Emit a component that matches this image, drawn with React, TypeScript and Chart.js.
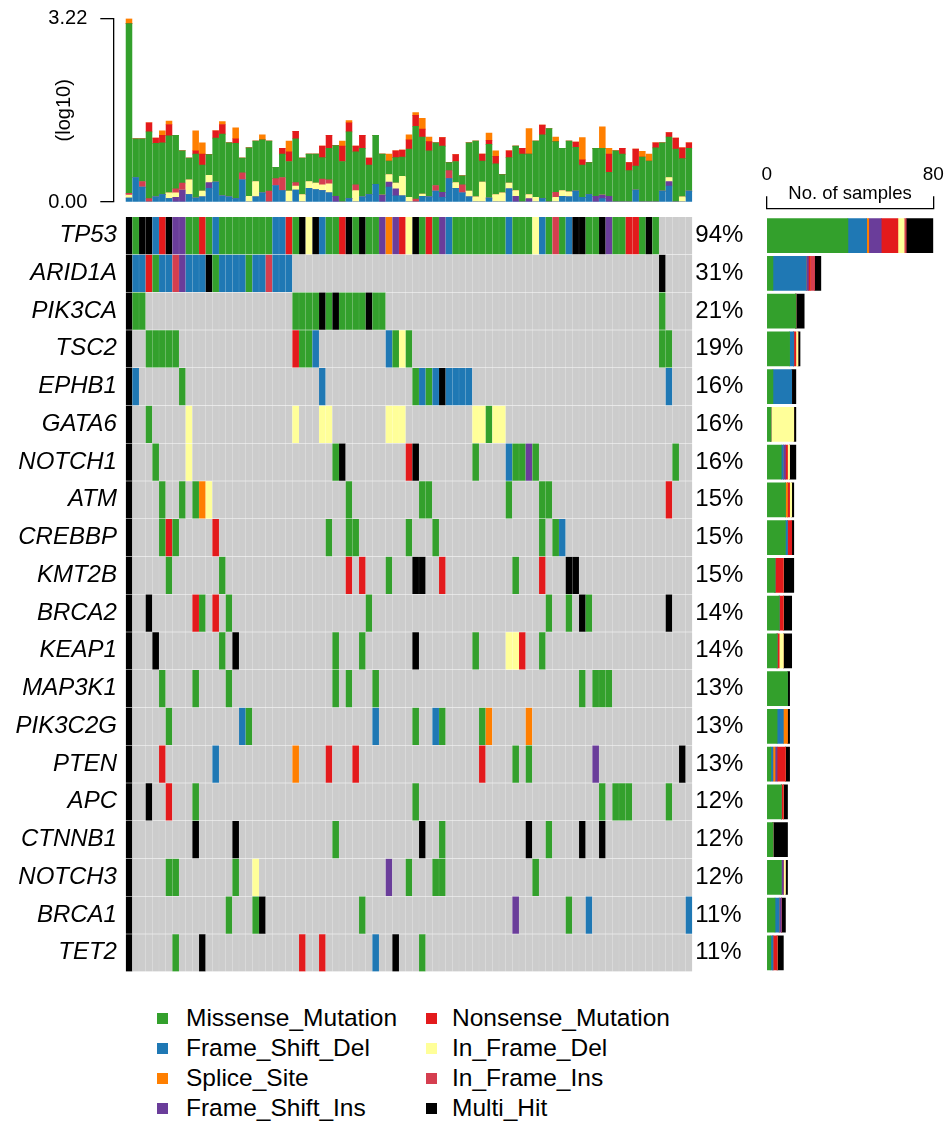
import React, { useEffect, useRef } from "react";
import { Chart, registerables } from "chart.js";

Chart.register(...registerables);

const FONT = '"Liberation Sans", Arial, Helvetica, sans-serif';

// ---------- categories ----------
const genes = ["TP53", "ARID1A", "PIK3CA", "TSC2", "EPHB1", "GATA6", "NOTCH1", "ATM", "CREBBP", "KMT2B",
  "BRCA2", "KEAP1", "MAP3K1", "PIK3C2G", "PTEN", "APC", "CTNNB1", "NOTCH3", "BRCA1", "TET2"];
const pctLabels = ["94%", "31%", "21%", "19%", "16%", "16%", "16%", "15%", "15%", "15%",
  "14%", "14%", "13%", "13%", "13%", "12%", "12%", "12%", "11%", "11%"];
const sampleCount = 85;

// variant classes (legend order), one-letter codes used in the oncoprint rows, colours
const variantTypes = ["Missense_Mutation", "Frame_Shift_Del", "Splice_Site", "Frame_Shift_Ins",
  "Nonsense_Mutation", "In_Frame_Del", "In_Frame_Ins", "Multi_Hit"];
const variantCodes = ["G", "B", "O", "P", "R", "Y", "I", "K"];
const variantColors = ["#33A02C", "#1F78B4", "#FF7F00", "#6A3D9A", "#E31A1C", "#FFFF99", "#D53E4F", "#000000"];
const noMutationColor = "#CCCCCC";

// ---------- oncoprint: one code per sample (85), '.' = not mutated ----------
const oncoRows = [
  "KGKKBRKPPG GRGBGGGGGG GGBBRGKYKB GGRKGKGGPO PRYKGRGPBG GGGGGGGBGG GYBGIGBKKG GKPGGRRGKG .....",
  "KBBRGBBIPB BBKGBBBBGB BIBBB..... .......... .......... .......... .......... .......... K....",
  "KGG....... .......... .....GGGGK GKGGGGKGG. .......... .......... .......... .......... G....",
  "K..GGGGG.. .......... .....RGGB. .........B GYG....... .......... .......... .......... GG...",
  "KB......G. .......... .........B .......... ...GBGBKBB BB........ .......... .......... .B...",
  "K..G.....Y .......... .....Y...Y Y........Y YY........ ..YYGYY... .......... .......... .....",
  "K...G....Y .......... .......... .GK....... ..RK...... ..G....BGG PG........ .......... ..G..",
  "K....G..G. GOY....... .......... ...G...... ....GG.... .......G.. ..GG...... .......... .R...",
  "K....GRG.. ...R...... .......... G..GG..... ..G...G... .......... ..G.GB.... .......... .....",
  "K.....G... ....G..... .......... ...R.R...G ...KK..R.. ........G. ..R...KK.. .......... .....",
  "K..K...... RG.R.G.... .......... ......G... .......... .......... ...G..G.KG .......... .K...",
  "K...K..... ....G.K... .......... .G...G.... ...K...... ..G....YYR ..G....... .......... .....",
  "K....G.... G....G.... .......... .G.G...G.. .......... .......... ........G. GGG....... .....",
  "K.....G... .......BG. .......... .......B.. ...G..BG.. ...GO..... O......... .......... .....",
  "K....R.... ...B...... .....O.... R...R..... .......... ...R....G. G......... P......... ...K.",
  "K..K..R... G......... .......... .......... ...G...... .......... .......... .G.GGG.... .G...",
  "K......... K.....K... .......... .G........ ....K..G.. .......... K..G....K. .K........ .....",
  "K.....GG.. ......G..Y .......... .........P ..G...GG.. .......... .G........ .......... .....",
  "K......... .....G...G K......... .....G.... .......... ........P. ......G..B .......... ....B",
  "K......G.. .K........ ......R..R .......B.. K...G..... .......... .......... .......... .....",
].map((s) => s.replace(/ /g, ""));

// ---------- top bar: mutation burden per sample (log10 scale), stacked by class ----------
const tmbFrameShiftDel = [
  0.07, 0.43, 0.26, 0, 0.09, 0.13, 0.06, 0, 0, 0.13,
  0.07, 0.09, 0.24, 0.35, 0.11, 0.09, 0.06, 0.39, 0, 0.09,
  0.16, 0, 0.29, 0.2, 0, 0.21, 0, 0.24, 0.22, 0.2,
  0.16, 0, 0, 0.06, 0, 0.09, 0.13, 0.31, 0, 0.26,
  0.11, 0.11, 0, 0, 0.1, 0.09, 0.19, 0.08, 0.41, 0.24,
  0.16, 0.09, 0, 0, 0.07, 0, 0, 0.23, 0, 0,
  0, 0, 0.06, 0, 0, 0.1, 0.09, 0.19, 0.08, 0.13,
  0, 0.06, 0, 0, 0, 0, 0.21, 0, 0, 0,
  0.19, 0.28, 0, 0, 0.19];
const tmbFrameShiftIns = [
  0, 0, 0, 0, 0, 0, 0, 0.08, 0.21, 0,
  0, 0, 0.1, 0, 0, 0, 0, 0, 0, 0,
  0, 0, 0, 0, 0, 0, 0, 0, 0, 0,
  0, 0.1, 0, 0, 0, 0, 0, 0, 0.12, 0.09,
  0.12, 0, 0, 0, 0, 0, 0, 0.09, 0, 0,
  0, 0, 0, 0, 0, 0, 0, 0, 0.1, 0,
  0.06, 0, 0, 0, 0, 0, 0, 0, 0, 0,
  0.1, 0.06, 0.1, 0, 0, 0, 0, 0, 0, 0,
  0, 0.08, 0, 0, 0];
const tmbInFrameDel = [
  0.05, 0, 0, 0, 0, 0, 0.1, 0.08, 0, 0.26,
  0, 0.1, 0.13, 0, 0, 0, 0, 0, 0.1, 0.27,
  0, 0, 0, 0, 0.19, 0.07, 0.13, 0.12, 0.11, 0.1,
  0.16, 0, 0, 0, 0.2, 0, 0, 0, 0, 0.13,
  0.1, 0.34, 0.08, 0, 0.04, 0, 0, 0, 0, 0.1,
  0, 0.1, 0.09, 0.35, 0, 0.13, 0.16, 0.1, 0.1, 0,
  0.07, 0.08, 0, 0, 0.08, 0.1, 0.09, 0, 0, 0,
  0, 0, 0, 0, 0, 0, 0, 0, 0, 0,
  0, 0.07, 0, 0.09, 0];
const tmbInFrameIns = [
  0.03, 0, 0.1, 0.06, 0, 0, 0, 0.07, 0.12, 0,
  0, 0, 0, 0, 0, 0, 0, 0.12, 0, 0,
  0, 0.19, 0.12, 0.23, 0, 0.06, 0, 0, 0, 0.1,
  0.07, 0, 0, 0, 0.1, 0, 0, 0, 0, 0,
  0, 0, 0, 0.05, 0, 0, 0.1, 0, 0.14, 0,
  0.14, 0, 0, 0, 0, 0, 0, 0, 0, 0,
  0, 0, 0, 0, 0.09, 0, 0, 0, 0, 0,
  0, 0, 0, 0, 0, 0, 0, 0, 0, 0,
  0, 0, 0, 0, 0];
const tmbMissense = [
  2.98, 0.68, 0.75, 1.17, 0.94, 0.91, 1.0, 0.94, 0.57, 0.38,
  0.77, 0.46, 0.36, 0.77, 1.08, 0.95, 0.97, 0.26, 0.85, 0.71,
  0.93, 0.88, 0.2, 0.41, 0.52, 0.77, 0.64, 0.48, 0.51, 0.38,
  0.55, 0.89, 0.71, 1.17, 0.58, 0.85, 0.52, 0.86, 0.72, 0.24,
  0.45, 0.34, 0.85, 1.28, 1.0, 0.81, 0.75, 0.81, 0.14, 0.37,
  0.16, 0.85, 0.98, 0.37, 0.94, 0.54, 0.32, 0.45, 0.78, 0.84,
  0.71, 0.99, 1.12, 1.29, 0.89, 0.74, 0.89, 0.77, 0.57, 0.56,
  0.84, 0.82, 0.42, 0.9, 0.84, 0.55, 0.42, 0.79, 0.72, 0.95,
  0.85, 0.71, 0.93, 0.67, 0.75];
const tmbNonsense = [
  0, 0, 0, 0.16, 0.09, 0.13, 0.2, 0, 0, 0,
  0.06, 0.19, 0, 0.13, 0.17, 0, 0.08, 0, 0, 0,
  0, 0, 0, 0.1, 0.17, 0.13, 0, 0, 0, 0.2,
  0.23, 0, 0.27, 0.16, 0.1, 0.23, 0.12, 0, 0, 0,
  0.12, 0.12, 0.16, 0.19, 0.14, 0.16, 0, 0.15, 0, 0.12,
  0, 0, 0, 0.12, 0.07, 0.13, 0, 0.12, 0, 0.1,
  0, 0, 0.17, 0, 0, 0, 0, 0.09, 0.09, 0,
  0, 0, 0.32, 0, 0.1, 0.14, 0.3, 0, 0, 0.09,
  0, 0.08, 0.19, 0.19, 0.1];
const tmbSpliceSite = [
  0.09, 0, 0, 0, 0, 0.08, 0.06, 0, 0, 0,
  0.35, 0.2, 0, 0, 0.05, 0, 0.19, 0, 0, 0,
  0.09, 0, 0, 0, 0.19, 0, 0, 0, 0, 0,
  0, 0, 0.09, 0.04, 0, 0, 0, 0, 0, 0.12,
  0, 0, 0.09, 0.05, 0.19, 0.08, 0, 0, 0, 0,
  0, 0, 0, 0, 0.13, 0.1, 0, 0, 0, 0,
  0.45, 0, 0, 0, 0.08, 0, 0, 0, 0.39, 0,
  0, 0.38, 0.1, 0, 0, 0, 0, 0.1, 0.12, 0,
  0, 0, 0, 0, 0];
const tmbMax = 3.22;
const tmbTicks = [0, 3.22];
const sampleTicks = [0, 80];

// ---------- layout constants (pixels) ----------
const GRID_LEFT = 125.67;
const GRID_RIGHT = 692.33;
const GRID_TOP = 216.7;
const GRID_BOTTOM = 971.7;

const codeColor = (c: string) => {
  const k = variantCodes.indexOf(c);
  return k < 0 ? noMutationColor : variantColors[k];
};

// remove Chart.js' automatic label overhang padding so the plot area sits exactly where the layout says
const noOverhang = (s: any) => {
  s.paddingTop = 0;
  s.paddingBottom = 0;
  s.paddingLeft = 0;
  s.paddingRight = 0;
};

function useChart(ref: React.RefObject<HTMLCanvasElement | null>, make: () => any) {
  useEffect(() => {
    if (!ref.current) return;
    const chart = new Chart(ref.current, make());
    return () => chart.destroy();
  }, []);
}

function topConfig() {
  const layers = [
    { label: "Frame_Shift_Del", values: tmbFrameShiftDel, color: variantColors[1] },
    { label: "Frame_Shift_Ins", values: tmbFrameShiftIns, color: variantColors[3] },
    { label: "In_Frame_Del", values: tmbInFrameDel, color: variantColors[5] },
    { label: "In_Frame_Ins", values: tmbInFrameIns, color: variantColors[6] },
    { label: "Missense_Mutation", values: tmbMissense, color: variantColors[0] },
    { label: "Nonsense_Mutation", values: tmbNonsense, color: variantColors[4] },
    { label: "Splice_Site", values: tmbSpliceSite, color: variantColors[2] },
  ];
  const axisLeft = 113.3;
  const colW = (GRID_RIGHT - GRID_LEFT) / sampleCount;
  return {
    type: "bar",
    data: {
      datasets: layers.map((l) => ({
        label: l.label,
        data: l.values.map((v, i) => ({ x: i, y: v })),
        backgroundColor: l.color,
        borderWidth: 0,
        barThickness: colW - 0.8,
        xAxisID: "x",
        yAxisID: "y",
      })),
    },
    options: {
      animation: false,
      responsive: false,
      layout: { padding: { left: 0, right: 700 - GRID_RIGHT, top: 18.5, bottom: 13 } },
      plugins: { legend: { display: false }, tooltip: { enabled: false } },
      scales: {
        x: {
          type: "linear",
          offset: false,
          min: -0.5 - (GRID_LEFT - axisLeft) / colW,
          max: sampleCount - 0.5,
          stacked: true,
          display: false,
        },
        y: {
          type: "linear",
          position: "left",
          offset: false,
          min: 0,
          max: tmbMax,
          stacked: true,
          afterFit: (s: any) => { s.width = axisLeft; noOverhang(s); },
          afterBuildTicks: (s: any) => { s.ticks = tmbTicks.map((v) => ({ value: v })); },
          ticks: {
            callback: (v: any) => Number(v).toFixed(2),
            padding: 13,
            color: "#000",
            font: { family: FONT, size: 20 },
          },
          grid: { drawOnChartArea: false, drawTicks: true, tickLength: 13, color: "#000", lineWidth: 1.3 },
          border: { display: true, color: "#000", width: 1.3 },
          title: {
            display: true,
            text: "(log10)",
            color: "#000",
            font: { family: FONT, size: 20 },
            padding: { top: 52, bottom: 0 },
          },
        },
      },
    },
  };
}

function gridConfig() {
  const canvasW = 760;
  const colW = (GRID_RIGHT - GRID_LEFT) / sampleCount;
  const tickSetter = (s: any) => { s.ticks = genes.map((_, i) => ({ value: i + 0.5 })); };
  return {
    type: "bar",
    data: {
      datasets: genes.map((g, gi) => {
        const row = oncoRows[gi];
        return {
          label: g,
          data: Array.from({ length: sampleCount }, (_, i) => ({ x: i, y: [gi + 0.014, gi + 0.986] })),
          backgroundColor: Array.from({ length: sampleCount }, (_, i) => codeColor(row[i])),
          borderWidth: 0,
          barThickness: colW - 0.75,
          xAxisID: "x",
          yAxisID: "y",
        };
      }),
    },
    options: {
      animation: false,
      responsive: false,
      layout: { padding: { left: 0, right: 0, top: GRID_TOP - 205, bottom: 985 - GRID_BOTTOM } },
      plugins: { legend: { display: false }, tooltip: { enabled: false } },
      scales: {
        x: { type: "linear", offset: false, min: -0.5, max: sampleCount - 0.5, stacked: true, display: false },
        y: {
          type: "linear",
          position: "left",
          offset: false,
          reverse: true,
          min: 0,
          max: genes.length,
          afterFit: (s: any) => { s.width = GRID_LEFT; noOverhang(s); },
          afterBuildTicks: tickSetter,
          ticks: {
            autoSkip: false,
            callback: (_v: any, i: number) => genes[i],
            padding: 8.7,
            color: "#000",
            font: { family: FONT, size: 24, style: "italic" },
          },
          grid: { display: false, drawTicks: false },
          border: { display: false },
        },
        yR: {
          type: "linear",
          axis: "y",
          position: "right",
          offset: false,
          reverse: true,
          min: 0,
          max: genes.length,
          afterFit: (s: any) => { s.width = canvasW - GRID_RIGHT; noOverhang(s); },
          afterBuildTicks: tickSetter,
          ticks: {
            autoSkip: false,
            callback: (_v: any, i: number) => pctLabels[i],
            padding: 3,
            color: "#000",
            font: { family: FONT, size: 24 },
          },
          grid: { display: false, drawTicks: false },
          border: { display: false },
        },
      },
    },
  };
}

function rightConfig() {
  const canvasTop = 150;
  const canvasBottom = 985;
  const areaLeft = 766.7;
  const areaRight = 933.3;
  const bracketY = 208.3;
  const rowH = (GRID_BOTTOM - GRID_TOP) / genes.length;
  const titleH = 24;
  const labelH = 19;
  const counts = genes.map((_, gi) => variantCodes.map((c) => oncoRows[gi].split("").filter((x) => x === c).length));
  const tickSetter = (s: any) => { s.ticks = sampleTicks.map((v) => ({ value: v })); };
  return {
    type: "bar",
    data: {
      datasets: variantTypes.map((t, k) => ({
        label: t,
        data: genes.map((_, gi) => ({ x: counts[gi][k], y: gi })),
        backgroundColor: variantColors[k],
        borderWidth: 0,
        barThickness: 34,
        xAxisID: "x",
        yAxisID: "y",
      })),
    },
    options: {
      indexAxis: "y",
      animation: false,
      responsive: false,
      layout: {
        padding: {
          left: areaLeft - 755,
          right: 945 - areaRight,
          top: bracketY - titleH - labelH - canvasTop,
          bottom: canvasBottom - GRID_BOTTOM,
        },
      },
      plugins: { legend: { display: false }, tooltip: { enabled: false } },
      scales: {
        y: {
          type: "linear",
          offset: false,
          reverse: true,
          stacked: true,
          min: -0.5 - (GRID_TOP - bracketY) / rowH,
          max: genes.length - 0.5,
          display: false,
        },
        x: {
          type: "linear",
          position: "top",
          offset: false,
          weight: 0,
          min: sampleTicks[0],
          max: sampleTicks[1],
          stacked: true,
          afterFit: (s: any) => { s.height = titleH; noOverhang(s); },
          afterBuildTicks: tickSetter,
          ticks: { display: false },
          grid: { drawOnChartArea: false, drawTicks: true, tickLength: 12, color: "#000", lineWidth: 1.3 },
          border: { display: true, color: "#000", width: 1.3 },
          title: {
            display: true,
            text: "No. of samples",
            color: "#000",
            font: { family: FONT, size: 18.5, lineHeight: 1 },
            padding: 0,
          },
        },
        x2: {
          type: "linear",
          axis: "x",
          position: "top",
          offset: false,
          weight: 1,
          min: sampleTicks[0],
          max: sampleTicks[1],
          afterFit: (s: any) => { s.height = labelH; noOverhang(s); },
          afterBuildTicks: tickSetter,
          ticks: { padding: 0, color: "#000", font: { family: FONT, size: 19, lineHeight: 1 } },
          grid: { display: false, drawTicks: false },
          border: { display: false },
        },
      },
    },
  };
}

export default function App() {
  const topRef = useRef<HTMLCanvasElement>(null);
  const gridRef = useRef<HTMLCanvasElement>(null);
  const rightRef = useRef<HTMLCanvasElement>(null);
  useChart(topRef, topConfig);
  useChart(gridRef, gridConfig);
  useChart(rightRef, rightConfig);

  const abs = (left: number, top: number): React.CSSProperties => ({ position: "absolute", left, top });

  return (
    <div style={{ position: "absolute", left: 0, top: 0, width: 945, height: 1121, background: "#fff", overflow: "hidden" }}>
      <canvas ref={topRef} width={700} height={215} style={abs(0, 0)} />
      <canvas ref={gridRef} width={760} height={780} style={abs(0, 205)} />
      <canvas ref={rightRef} width={190} height={835} style={abs(755, 150)} />
      {variantTypes.map((t, k) => {
        const col = Math.floor(k / 4);
        const row = k % 4;
        const cy = 1018 + row * 30;
        return (
          <React.Fragment key={t}>
            <div
              style={{
                ...abs(col === 0 ? 157 : 426, cy - 5.5),
                width: 11,
                height: 11,
                background: variantColors[k],
              }}
            />
            <div
              style={{
                ...abs(col === 0 ? 186 : 452, cy - 15),
                height: 30,
                lineHeight: "30px",
                fontFamily: FONT,
                fontSize: 24.5,
                color: "#000",
                whiteSpace: "nowrap",
              }}
            >
              {t}
            </div>
          </React.Fragment>
        );
      })}
    </div>
  );
}
